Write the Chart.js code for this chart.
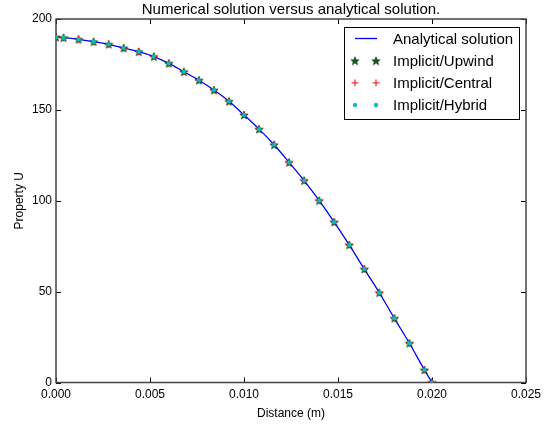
<!DOCTYPE html>
<html><head><meta charset="utf-8">
<script src="https://cdn.jsdelivr.net/npm/chart.js@4.4.0/dist/chart.umd.min.js"></script>
<style>html,body{margin:0;padding:0;background:#fff}canvas{display:block}</style>
</head><body>
<canvas id="c" width="549" height="427"></canvas>
<script>
const distance   = [0, 0.0004, 0.0012, 0.0020, 0.0028, 0.0036, 0.0044, 0.0052, 0.0060, 0.0068, 0.0076, 0.0084, 0.0092, 0.0100, 0.0108, 0.0116, 0.0124, 0.0132, 0.0140, 0.0148, 0.0156, 0.0164, 0.0172, 0.0180, 0.0188, 0.0196, 0.0200];
const analytical = [190, 189.7, 188.8, 187.5, 186.1, 184.0, 182.0, 179.3, 175.6, 171.0, 166.3, 160.9, 154.7, 147.2, 139.4, 130.8, 121.1, 111.1, 100.1, 88.3, 75.7, 62.4, 49.4, 35.3, 21.6, 6.9, 0];
const upwind     = [190, 189.7, 188.8, 187.5, 186.1, 184.0, 182.0, 179.3, 175.6, 171.0, 166.3, 160.9, 154.7, 147.2, 139.4, 130.8, 121.1, 111.1, 100.1, 88.3, 75.7, 62.4, 49.4, 35.3, 21.6, 6.9, 0];
const central    = [190, 189.7, 188.8, 187.5, 186.1, 184.0, 182.0, 179.3, 175.6, 171.0, 166.3, 160.9, 154.7, 147.2, 139.4, 130.8, 121.1, 111.1, 100.1, 88.3, 75.7, 62.4, 49.4, 35.3, 21.6, 6.9, 0];
const hybrid     = [190, 189.7, 188.8, 187.5, 186.1, 184.0, 182.0, 179.3, 175.6, 171.0, 166.3, 160.9, 154.7, 147.2, 139.4, 130.8, 121.1, 111.1, 100.1, 88.3, 75.7, 62.4, 49.4, 35.3, 21.6, 6.9, 0];
const seriesNames = ['Analytical solution', 'Implicit/Upwind', 'Implicit/Central', 'Implicit/Hybrid'];
const xTicks = [0, 0.005, 0.010, 0.015, 0.020, 0.025];
const yTicks = [0, 50, 100, 150, 200];
const titleText = 'Numerical solution versus analytical solution.';
const xTitle = 'Distance (m)';
const yTitle = 'Property U';

const FONT = "'Liberation Sans', Arial, sans-serif";

function makeStar(size, fill, stroke) {
  const c = document.createElement('canvas');
  c.width = c.height = size;
  const g = c.getContext('2d');
  const cx = size / 2, cy = size / 2 + 0.4, R = size / 2 - 0.6, r = R * 0.4;
  g.beginPath();
  for (let i = 0; i < 10; i++) {
    const a = -Math.PI / 2 + i * Math.PI / 5;
    const rr = i % 2 ? r : R;
    g.lineTo(cx + rr * Math.cos(a), cy + rr * Math.sin(a));
  }
  g.closePath();
  g.fillStyle = fill; g.fill();
  g.lineWidth = 0.6; g.strokeStyle = stroke; g.stroke();
  return c;
}
const starImg = makeStar(10, '#0a5a0a', '#0b2b0b');

const pts = arr => distance.map((x, i) => ({x, y: arr[i]}));

const frameTicks = {
  id: 'frameTicks',
  beforeDatasetsDraw(chart) {
    const {ctx, chartArea: a, scales: {x, y}} = chart;
    ctx.save();
    ctx.strokeStyle = '#000';
    ctx.lineWidth = 1;
    const L = 5;
    ctx.beginPath();
    xTicks.forEach(v => {
      const px = Math.round(x.getPixelForValue(v)) + 0.5;
      ctx.moveTo(px, a.bottom); ctx.lineTo(px, a.bottom - L);
      ctx.moveTo(px, a.top); ctx.lineTo(px, a.top + L);
    });
    yTicks.forEach(v => {
      const py = Math.round(y.getPixelForValue(v)) + 0.5;
      ctx.moveTo(a.left, py); ctx.lineTo(a.left + L, py);
      ctx.moveTo(a.right, py); ctx.lineTo(a.right - L, py);
    });
    ctx.stroke();
    ctx.strokeStyle = '#444';
    ctx.lineWidth = 1.5;
    ctx.strokeRect(a.left, a.top, a.right - a.left, a.bottom - a.top);
    ctx.restore();
  }
};

const plotTitle = {
  id: 'plotTitle',
  afterDraw(chart) {
    const {ctx, chartArea: a} = chart;
    ctx.save();
    ctx.font = '15px ' + FONT;
    ctx.fillStyle = '#000';
    ctx.textAlign = 'center';
    ctx.textBaseline = 'middle';
    ctx.fillText(titleText, (a.left + a.right) / 2, 10);
    ctx.restore();
  }
};

const mplLegend = {
  id: 'mplLegend',
  afterDraw(chart) {
    const {ctx, chartArea: a} = chart;
    const right = a.right - 7, top = a.top + 8, w = 175, h = 92;
    const left = right - w;
    ctx.save();
    ctx.fillStyle = '#fff';
    ctx.fillRect(left, top, w, h);
    ctx.strokeStyle = '#000';
    ctx.lineWidth = 1;
    ctx.strokeRect(Math.round(left) + 0.5, Math.round(top) + 0.5, w, h);
    const rowY = i => top + 11.5 + i * 22.2;
    const m1 = left + 11, m2 = left + 32;
    ctx.font = '15px ' + FONT;
    ctx.textBaseline = 'middle';
    chart.data.datasets.forEach((ds, i) => {
      const yy = rowY(i);
      if (i === 0) {
        ctx.strokeStyle = ds.borderColor; ctx.lineWidth = ds.borderWidth;
        ctx.beginPath(); ctx.moveTo(m1, yy); ctx.lineTo(m2 + 1, yy); ctx.stroke();
      } else {
        [m1, m2].forEach(mx => {
          ctx.fillStyle = ds.backgroundColor;
          ctx.strokeStyle = ds.borderColor;
          ctx.lineWidth = ds.pointBorderWidth;
          Chart.helpers.drawPoint(ctx, {pointStyle: ds.pointStyle, radius: ds.pointRadius,
            rotation: 0, borderWidth: ds.pointBorderWidth}, mx, yy);
        });
      }
      ctx.fillStyle = '#000';
      ctx.fillText(ds.label, left + 49, yy + 1);
    });
    ctx.restore();
  }
};

const chart = new Chart(document.getElementById('c'), {
  type: 'scatter',
  data: {
    datasets: [
      {label: seriesNames[0], data: pts(analytical), showLine: true, borderColor: '#0000ff', borderWidth: 1.3,
       pointRadius: 0, cubicInterpolationMode: 'monotone', order: 4},
      {label: seriesNames[1], data: pts(upwind), pointStyle: starImg, pointRadius: 5,
       backgroundColor: '#0a5a0a', borderColor: '#0b2b0b', pointBorderWidth: 0.6, order: 3},
      {label: seriesNames[2], data: pts(central), pointStyle: 'cross', pointRadius: 3.5,
       backgroundColor: '#ff0000', borderColor: '#ff0000', pointBorderWidth: 1, borderWidth: 1, order: 2},
      {label: seriesNames[3], data: pts(hybrid), pointStyle: 'circle', pointRadius: 2,
       backgroundColor: '#00bfbf', borderColor: '#00bfbf', pointBorderWidth: 0.5, borderWidth: 0.5, order: 1}
    ]
  },
  options: {
    responsive: false,
    animation: false,
    devicePixelRatio: 1,
    layout: {padding: {left: 0, right: 23, top: 19, bottom: 0}},
    plugins: {
      legend: {display: false},
      tooltip: {enabled: false},
      title: {display: false}
    },
    scales: {
      x: {
        type: 'linear', min: 0, max: 0.025,
        afterBuildTicks: s => { s.ticks = xTicks.map(v => ({value: v})); },
        afterFit: s => { s.height = 44.5; },
        grid: {display: false, drawTicks: false},
        border: {display: false},
        ticks: {color: '#000', font: {size: 12, family: FONT}, padding: 5, maxRotation: 0,
                callback: v => Number(v).toFixed(3)},
        title: {display: true, text: xTitle, color: '#000', font: {size: 12, family: FONT},
                padding: {top: 0, bottom: 6}}
      },
      y: {
        type: 'linear', min: 0, max: 200,
        afterBuildTicks: s => { s.ticks = yTicks.map(v => ({value: v})); },
        afterFit: s => { s.width = 56; },
        grid: {display: false, drawTicks: false},
        border: {display: false},
        ticks: {color: '#000', font: {size: 12, family: FONT}, padding: 4,
                callback: v => String(v)},
        title: {display: true, text: yTitle, color: '#000', font: {size: 12, family: FONT},
                padding: {top: 12, bottom: 0}}
      }
    }
  },
  plugins: [frameTicks, plotTitle, mplLegend]
});
</script>
</body></html>
